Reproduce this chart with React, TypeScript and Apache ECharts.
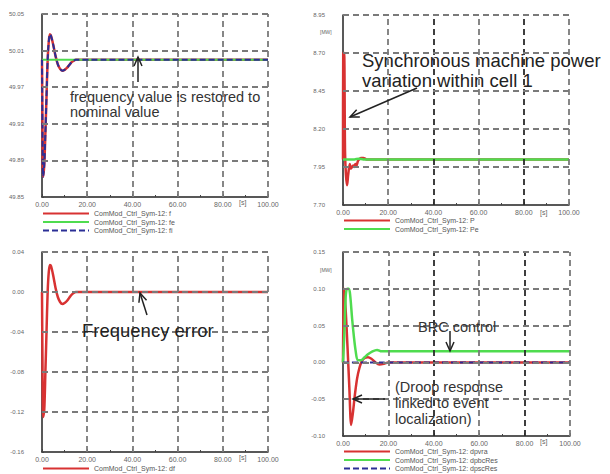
import React, { useEffect, useRef } from "react";
import * as echarts from "echarts";

// ---- Panel 1: frequency [Hz]
const T_F = [0, 0.2, 0.5, 1, 1.5, 2, 2.5, 3, 3.5, 4, 5, 6, 7, 8, 9, 10, 11, 12, 13, 14, 15, 100];
const F = [50.0, 49.93, 49.872, 49.885, 49.92, 49.96, 50.0, 50.02, 50.028, 50.026, 50.016, 50.004, 49.995, 49.99, 49.988, 49.989, 49.991, 49.994, 49.997, 49.999, 50.0, 50.0];
const FI = [50.0, 49.93, 49.872, 49.885, 49.92, 49.96, 50.0, 50.02, 50.028, 50.026, 50.016, 50.004, 49.995, 49.99, 49.988, 49.989, 49.991, 49.994, 49.997, 49.999, 50.0, 50.0];
const T_FE = [0, 100];
const FE = [50.0, 50.0];

// ---- Panel 2: synchronous machine power [MW]
const T_P = [0, 0.1, 0.5, 0.9, 1.3, 1.8, 2.3, 3.0, 3.5, 4.0, 4.5, 5.0, 5.5, 6.0, 6.6, 7.2, 8.0, 9.0, 10.5, 12, 100];
const P = [8.0, 8.7, 8.7, 8.05, 7.9, 7.83, 7.9, 7.97, 7.94, 7.95, 7.96, 7.95, 7.97, 7.96, 7.99, 8.0, 8.01, 8.01, 8.0, 8.0, 8.0];
const T_PE = [0, 5, 7, 9, 11, 100];
const PE = [8.0, 8.0, 8.005, 8.0, 8.0, 8.0];

// ---- Panel 3: frequency error
const T_DF = [0, 0.2, 0.5, 1, 1.5, 2, 2.5, 3, 3.5, 4, 5, 6, 7, 8, 9, 10, 11, 12, 13, 14, 15, 100];
const DF = [0, -0.065, -0.125, -0.118, -0.08, -0.04, 0.0, 0.02, 0.027, 0.026, 0.016, 0.004, -0.005, -0.01, -0.012, -0.011, -0.009, -0.006, -0.003, -0.001, 0, 0];

// ---- Panel 4: control powers [MW]
const T_R = [0, 0.3, 0.6, 1.2, 2.0, 2.8, 3.6, 4.3, 5.2, 6.2, 7.2, 8.2, 9.5, 11, 12.5, 14, 16, 18, 20, 100];
const R = [0, 0.1, 0.095, 0.07, 0.02, -0.035, -0.085, -0.07, -0.045, -0.022, -0.008, 0.001, 0.006, 0.007, 0.005, 0.001, -0.003, -0.002, 0, 0];
const T_G = [0, 0.6, 1.2, 1.8, 2.6, 3.2, 4.0, 4.8, 5.6, 6.5, 8, 9.5, 11, 13, 15, 17, 100];
const G = [0, 0.04, 0.09, 0.1, 0.1, 0.09, 0.06, 0.035, 0.015, 0.003, 0.003, 0.007, 0.011, 0.015, 0.017, 0.015, 0.015];
const T_B = [0, 100];
const B = [0, 0];

// ---- Tick values (grid lines)
const X_TICKS = [20, 40, 60, 80, 100];
const Y_TICKS_1 = [49.89, 49.93, 49.97, 50.01, 50.05];
const Y_TICKS_2 = [7.95, 8.2, 8.45, 8.7, 8.95];
const Y_TICKS_3 = [-0.12, -0.08, -0.04, 0.0, 0.04];
const Y_TICKS_4 = [-0.05, 0.0, 0.05, 0.1, 0.15];

const NAMES_1 = ["ComMod_Ctrl_Sym-12: f", "ComMod_Ctrl_Sym-12: fe", "ComMod_Ctrl_Sym-12: fi"];
const NAMES_2 = ["ComMod_Ctrl_Sym-12: P", "ComMod_Ctrl_Sym-12: Pe"];
const NAMES_3 = ["ComMod_Ctrl_Sym-12: df"];
const NAMES_4 = ["ComMod_Ctrl_Sym-12: dpvra", "ComMod_Ctrl_Sym-12: dpbcRes", "ComMod_Ctrl_Sym-12: dpscRes"];

const RED = "#d83232";
const GREEN = "#4fdc4f";
const BLUE = "#2b2f96";
const GRID = "#7a7a7a";
const FONT = "Liberation Sans, Arial, sans-serif";

const pairs = (t: number[], v: number[]) => t.map((x, i) => [x, v[i]]);

function xAxis(gridIndex: number) {
  return {
    type: "value",
    gridIndex,
    min: 0,
    max: 100,
    interval: 20,
    axisLine: { show: true, onZero: false, lineStyle: { color: "#222", width: 1.5 } },
    axisTick: { show: true, length: 3, inside: true, lineStyle: { color: "#444" } },
    minorTick: { show: true, splitNumber: 2, length: 2, lineStyle: { color: "#444" } },
    axisLabel: {
      fontSize: 7,
      color: "#666",
      fontFamily: FONT,
      margin: 4,
      formatter: (v: number) => v.toFixed(2),
    },
    splitLine: { show: false },
  };
}

function yAxis(gridIndex: number, min: number, max: number, interval: number) {
  return {
    type: "value",
    gridIndex,
    min,
    max,
    interval,
    axisLine: { show: true, onZero: false, lineStyle: { color: "#222", width: 1.5 } },
    axisTick: { show: true, length: 2, inside: true, lineStyle: { color: "#444" } },
    axisLabel: {
      fontSize: 6,
      color: "#666",
      fontFamily: FONT,
      margin: 18,
      formatter: (v: number) => v.toFixed(2),
    },
    splitLine: { show: false },
  };
}

function gridSeries(idx: number, yTicks: number[], darkCols: boolean) {
  const dash = { type: [6, 4], width: 1.8, color: GRID, opacity: 1 };
  return {
    type: "line",
    name: "grid" + idx,
    xAxisIndex: idx,
    yAxisIndex: idx,
    data: [],
    z: 1,
    silent: true,
    markLine: {
      silent: true,
      symbol: ["none", "none"],
      label: { show: false },
      lineStyle: dash,
      data: [
        ...X_TICKS.map((v) => ({
          xAxis: v,
          lineStyle: { ...dash, color: darkCols && (v === 40 || v === 80) ? "#2a2a2a" : GRID },
        })),
        ...yTicks.map((v) => ({ yAxis: v, lineStyle: { ...dash } })),
      ],
    },
  };
}

function line(name: string, idx: number, data: number[][], color: string, width: number, dashed = false) {
  return {
    type: "line",
    name,
    xAxisIndex: idx,
    yAxisIndex: idx,
    data,
    z: 3,
    symbol: "none",
    smooth: 0.3,
    lineStyle: { color, width, type: dashed ? [6, 3] : "solid" },
    itemStyle: { color },
  };
}

function arrow(x1: number, y1: number, x2: number, y2: number) {
  const a = Math.atan2(y2 - y1, x2 - x1);
  const L = 9, W = 4;
  const bx = x2 - L * Math.cos(a), by = y2 - L * Math.sin(a);
  const px = -Math.sin(a) * W, py = Math.cos(a) * W;
  return [
    { type: "line", z: 100, shape: { x1, y1, x2, y2 }, style: { stroke: "#222", lineWidth: 1.5 } },
    {
      type: "polyline",
      z: 100,
      shape: { points: [[bx + px, by + py], [x2, y2], [bx - px, by - py]] },
      style: { stroke: "#222", lineWidth: 1.5, fill: null },
    },
  ];
}

function txt(x: number, y: number, text: string, size: number, color = "#333") {
  return {
    type: "text",
    z: 100,
    x,
    y,
    style: { text, fontSize: size, fill: color, fontFamily: FONT, textVerticalAlign: "middle" },
  };
}

function legend(left: number, top: number, data: string[]) {
  return {
    left,
    top,
    padding: 0,
    orient: "vertical",
    data,
    itemWidth: 46,
    itemHeight: 7,
    itemGap: 1.5,
    itemStyle: { opacity: 0 },
    textStyle: { fontSize: 7, color: "#555", fontFamily: FONT },
    selectedMode: false,
  };
}

export default function App() {
  const ref = useRef<HTMLDivElement>(null);
  useEffect(() => {
    if (!ref.current) return;
    const chart = echarts.init(ref.current, null, { renderer: "svg" });
    chart.setOption({
      animation: false,
      backgroundColor: "#fff",
      grid: [
        { left: 42, top: 14, width: 226, height: 183 },
        { left: 343, top: 15, width: 226, height: 190 },
        { left: 42, top: 252, width: 226, height: 200 },
        { left: 343, top: 252, width: 227, height: 184 },
      ],
      xAxis: [xAxis(0), xAxis(1), xAxis(2), xAxis(3)],
      yAxis: [
        yAxis(0, 49.85, 50.05, 0.04),
        yAxis(1, 7.7, 8.95, 0.25),
        yAxis(2, -0.16, 0.04, 0.04),
        yAxis(3, -0.1, 0.15, 0.05),
      ],
      legend: [
        legend(42, 210, NAMES_1),
        legend(343, 217, NAMES_2),
        legend(42, 465, NAMES_3),
        legend(343, 448, NAMES_4),
      ],
      series: [
        gridSeries(0, Y_TICKS_1, false),
        gridSeries(1, Y_TICKS_2, true),
        gridSeries(2, Y_TICKS_3, false),
        gridSeries(3, Y_TICKS_4, true),
        line(NAMES_1[0], 0, pairs(T_F, F), RED, 2.5),
        line(NAMES_1[1], 0, pairs(T_FE, FE), GREEN, 2),
        line(NAMES_1[2], 0, pairs(T_F, FI), BLUE, 2, true),
        line(NAMES_2[0], 1, pairs(T_P, P), RED, 2.5),
        line(NAMES_2[1], 1, pairs(T_PE, PE), GREEN, 2.5),
        line(NAMES_3[0], 2, pairs(T_DF, DF), RED, 2.5),
        line(NAMES_4[0], 3, pairs(T_R, R), RED, 2.5),
        line(NAMES_4[1], 3, pairs(T_G, G), GREEN, 2.5),
        line(NAMES_4[2], 3, pairs(T_B, B), BLUE, 2, true),
      ],
      graphic: [
        txt(70, 97, "frequency value is restored to", 14.5),
        txt(70, 112, "nominal value", 14.5),
        ...arrow(138, 82, 138, 57),
        txt(362, 60, "Synchronous machine power", 18.5, "#222"),
        txt(362, 80, "variation within cell 1", 18.5, "#222"),
        ...arrow(417, 88, 350, 117),
        txt(82, 330, "Frequency error", 18.5, "#222"),
        ...arrow(147, 315, 140, 293),
        txt(418, 327, "BRC control", 14.5),
        ...arrow(450, 331, 450, 351),
        txt(395, 387, "(Droop response", 14.5),
        txt(395, 403, "linked to event", 14.5),
        txt(395, 419, "localization)", 14.5),
        ...arrow(385, 399, 353, 399),
        txt(320, 32, "[MW]", 5, "#666"),
        txt(320, 270, "[MW]", 5, "#666"),
        txt(239, 202, "[s]", 7, "#666"),
        txt(540, 212, "[s]", 7, "#666"),
        txt(239, 457, "[s]", 7, "#666"),
        txt(540, 441, "[s]", 7, "#666"),
      ],
    });
    return () => chart.dispose();
  }, []);
  return (
    <div
      ref={ref}
      style={{ position: "absolute", left: 0, top: 0, width: 610, height: 474 }}
    />
  );
}
